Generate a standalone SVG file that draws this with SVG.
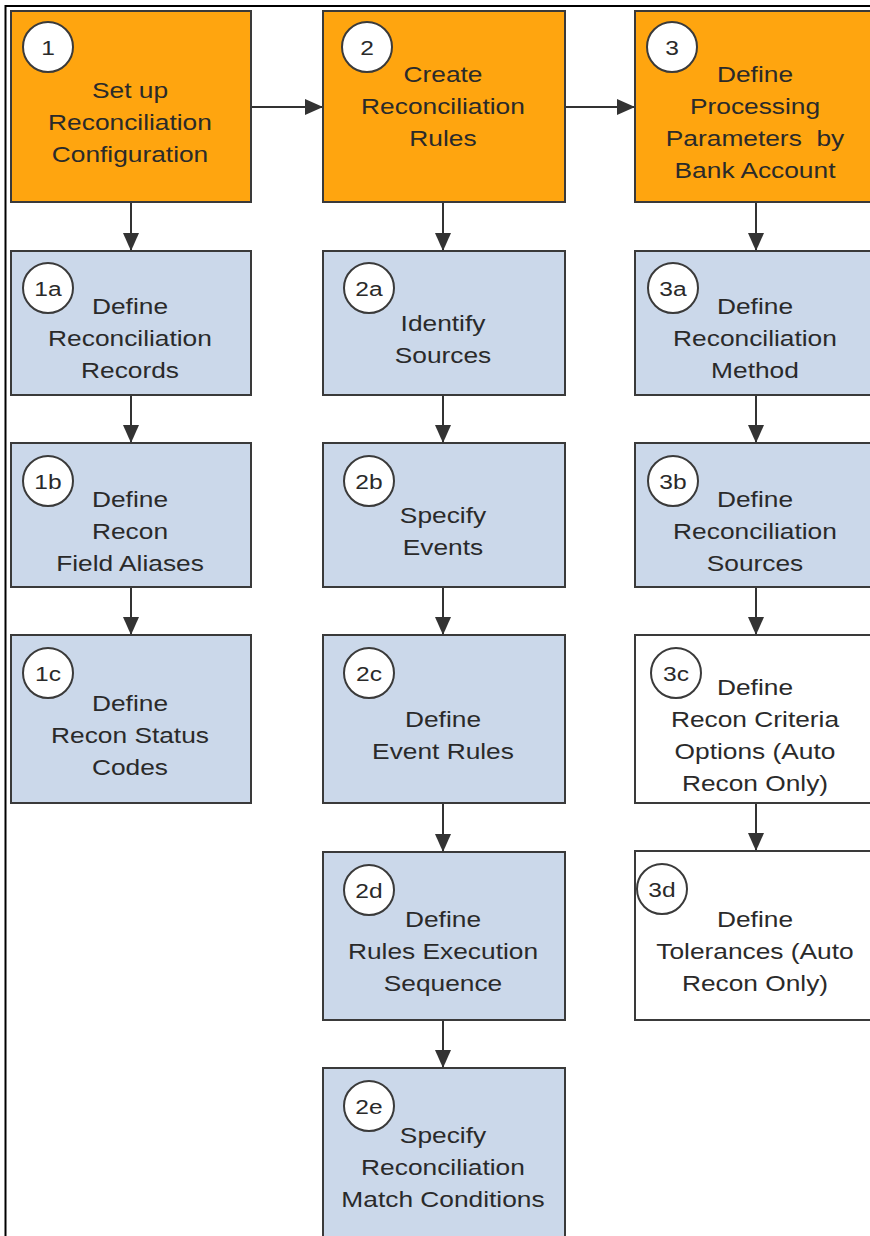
<svg xmlns="http://www.w3.org/2000/svg" width="870" height="1236" viewBox="0 0 870 1236">
<style>
.box{stroke:#3a3a3a;stroke-width:2}
.o{fill:#FFA50F}
.b{fill:#CBD8EA}
.w{fill:#FFFFFF}
.c{fill:#FFFFFF;stroke:#3a3a3a;stroke-width:2}
.t{font-family:"Liberation Sans",Arial,sans-serif;font-size:22.5px;fill:#2a2a2a;text-anchor:middle}
.n{font-family:"Liberation Sans",Arial,sans-serif;font-size:21px;fill:#2a2a2a;text-anchor:middle}
.conn{stroke:#333333;stroke-width:2;fill:none;marker-end:url(#ah)}
</style>
<defs>
<marker id="ah" markerUnits="userSpaceOnUse" markerWidth="18" markerHeight="16" refX="18" refY="8" orient="auto">
<path d="M0,0 L18,8 L0,16 Z" fill="#333333"/>
</marker>
</defs>
<rect x="0" y="0" width="870" height="1236" fill="#FFFFFF"/>
<path d="M5.5,1236 V6 H870" fill="none" stroke="#000000" stroke-width="2"/>

<g id="connectors">
<line class="conn" x1="251" y1="107" x2="323" y2="107"/>
<line class="conn" x1="565" y1="107" x2="635" y2="107"/>
<line class="conn" x1="131" y1="202" x2="131" y2="251"/>
<line class="conn" x1="131" y1="395" x2="131" y2="443"/>
<line class="conn" x1="131" y1="587" x2="131" y2="635"/>
<line class="conn" x1="443" y1="202" x2="443" y2="251"/>
<line class="conn" x1="443" y1="395" x2="443" y2="443"/>
<line class="conn" x1="443" y1="587" x2="443" y2="635"/>
<line class="conn" x1="443" y1="803" x2="443" y2="852"/>
<line class="conn" x1="443" y1="1020" x2="443" y2="1068"/>
<line class="conn" x1="756" y1="202" x2="756" y2="251"/>
<line class="conn" x1="756" y1="395" x2="756" y2="443"/>
<line class="conn" x1="756" y1="587" x2="756" y2="635"/>
<line class="conn" x1="756" y1="803" x2="756" y2="851"/>
</g>

<g id="n1">
<rect class="box o" x="11" y="11" width="240" height="191"/>
<circle class="c" cx="48" cy="47" r="25"/>
<text class="n" transform="matrix(1.17 0 0 1 48 0)"><tspan x="0" y="55">1</tspan></text>
<text class="t" transform="matrix(1.17 0 0 1 130 0)"><tspan x="0" y="98">Set up</tspan><tspan x="0" y="130">Reconciliation</tspan><tspan x="0" y="162">Configuration</tspan></text>
</g>
<g id="n2">
<rect class="box o" x="323" y="11" width="242" height="191"/>
<circle class="c" cx="367" cy="47" r="25"/>
<text class="n" transform="matrix(1.17 0 0 1 367 0)"><tspan x="0" y="55">2</tspan></text>
<text class="t" transform="matrix(1.17 0 0 1 443 0)"><tspan x="0" y="82">Create</tspan><tspan x="0" y="114">Reconciliation</tspan><tspan x="0" y="146">Rules</tspan></text>
</g>
<g id="n3">
<rect class="box o" x="635" y="11" width="242" height="191"/>
<circle class="c" cx="672" cy="47" r="25"/>
<text class="n" transform="matrix(1.17 0 0 1 672 0)"><tspan x="0" y="55">3</tspan></text>
<text class="t" transform="matrix(1.17 0 0 1 755 0)"><tspan x="0" y="82">Define</tspan><tspan x="0" y="114">Processing</tspan><tspan x="0" y="146">Parameters&#160; by</tspan><tspan x="0" y="178">Bank Account</tspan></text>
</g>

<g id="n1a">
<rect class="box b" x="11" y="251" width="240" height="144"/>
<circle class="c" cx="48" cy="288" r="25"/>
<text class="n" transform="matrix(1.17 0 0 1 48 0)"><tspan x="0" y="296">1a</tspan></text>
<text class="t" transform="matrix(1.17 0 0 1 130 0)"><tspan x="0" y="314">Define</tspan><tspan x="0" y="346">Reconciliation</tspan><tspan x="0" y="378">Records</tspan></text>
</g>
<g id="n1b">
<rect class="box b" x="11" y="443" width="240" height="144"/>
<circle class="c" cx="48" cy="481" r="25"/>
<text class="n" transform="matrix(1.17 0 0 1 48 0)"><tspan x="0" y="489">1b</tspan></text>
<text class="t" transform="matrix(1.17 0 0 1 130 0)"><tspan x="0" y="507">Define</tspan><tspan x="0" y="539">Recon</tspan><tspan x="0" y="571">Field Aliases</tspan></text>
</g>
<g id="n1c">
<rect class="box b" x="11" y="635" width="240" height="168"/>
<circle class="c" cx="48" cy="673" r="25"/>
<text class="n" transform="matrix(1.17 0 0 1 48 0)"><tspan x="0" y="681">1c</tspan></text>
<text class="t" transform="matrix(1.17 0 0 1 130 0)"><tspan x="0" y="711">Define</tspan><tspan x="0" y="743">Recon Status</tspan><tspan x="0" y="775">Codes</tspan></text>
</g>

<g id="n2a">
<rect class="box b" x="323" y="251" width="242" height="144"/>
<circle class="c" cx="369" cy="288" r="25"/>
<text class="n" transform="matrix(1.17 0 0 1 369 0)"><tspan x="0" y="296">2a</tspan></text>
<text class="t" transform="matrix(1.17 0 0 1 443 0)"><tspan x="0" y="331">Identify</tspan><tspan x="0" y="363">Sources</tspan></text>
</g>
<g id="n2b">
<rect class="box b" x="323" y="443" width="242" height="144"/>
<circle class="c" cx="369" cy="481" r="25"/>
<text class="n" transform="matrix(1.17 0 0 1 369 0)"><tspan x="0" y="489">2b</tspan></text>
<text class="t" transform="matrix(1.17 0 0 1 443 0)"><tspan x="0" y="523">Specify</tspan><tspan x="0" y="555">Events</tspan></text>
</g>
<g id="n2c">
<rect class="box b" x="323" y="635" width="242" height="168"/>
<circle class="c" cx="369" cy="673" r="25"/>
<text class="n" transform="matrix(1.17 0 0 1 369 0)"><tspan x="0" y="681">2c</tspan></text>
<text class="t" transform="matrix(1.17 0 0 1 443 0)"><tspan x="0" y="727">Define</tspan><tspan x="0" y="759">Event Rules</tspan></text>
</g>
<g id="n2d">
<rect class="box b" x="323" y="852" width="242" height="168"/>
<circle class="c" cx="369" cy="890" r="25"/>
<text class="n" transform="matrix(1.17 0 0 1 369 0)"><tspan x="0" y="898">2d</tspan></text>
<text class="t" transform="matrix(1.17 0 0 1 443 0)"><tspan x="0" y="927">Define</tspan><tspan x="0" y="959">Rules Execution</tspan><tspan x="0" y="991">Sequence</tspan></text>
</g>
<g id="n2e">
<rect class="box b" x="323" y="1068" width="242" height="180"/>
<circle class="c" cx="369" cy="1106" r="25"/>
<text class="n" transform="matrix(1.17 0 0 1 369 0)"><tspan x="0" y="1114">2e</tspan></text>
<text class="t" transform="matrix(1.17 0 0 1 443 0)"><tspan x="0" y="1143">Specify</tspan><tspan x="0" y="1175">Reconciliation</tspan><tspan x="0" y="1207">Match Conditions</tspan></text>
</g>

<g id="n3a">
<rect class="box b" x="635" y="251" width="242" height="144"/>
<circle class="c" cx="673" cy="288" r="25"/>
<text class="n" transform="matrix(1.17 0 0 1 673 0)"><tspan x="0" y="296">3a</tspan></text>
<text class="t" transform="matrix(1.17 0 0 1 755 0)"><tspan x="0" y="314">Define</tspan><tspan x="0" y="346">Reconciliation</tspan><tspan x="0" y="378">Method</tspan></text>
</g>
<g id="n3b">
<rect class="box b" x="635" y="443" width="242" height="144"/>
<circle class="c" cx="673" cy="481" r="25"/>
<text class="n" transform="matrix(1.17 0 0 1 673 0)"><tspan x="0" y="489">3b</tspan></text>
<text class="t" transform="matrix(1.17 0 0 1 755 0)"><tspan x="0" y="507">Define</tspan><tspan x="0" y="539">Reconciliation</tspan><tspan x="0" y="571">Sources</tspan></text>
</g>
<g id="n3c">
<rect class="box w" x="635" y="635" width="242" height="168"/>
<circle class="c" cx="676" cy="673" r="25"/>
<text class="n" transform="matrix(1.17 0 0 1 676 0)"><tspan x="0" y="681">3c</tspan></text>
<text class="t" transform="matrix(1.17 0 0 1 755 0)"><tspan x="0" y="695">Define</tspan><tspan x="0" y="727">Recon Criteria</tspan><tspan x="0" y="759">Options (Auto</tspan><tspan x="0" y="791">Recon Only)</tspan></text>
</g>
<g id="n3d">
<rect class="box w" x="635" y="851" width="242" height="169"/>
<circle class="c" cx="662" cy="889" r="25"/>
<text class="n" transform="matrix(1.17 0 0 1 662 0)"><tspan x="0" y="897">3d</tspan></text>
<text class="t" transform="matrix(1.17 0 0 1 755 0)"><tspan x="0" y="927">Define</tspan><tspan x="0" y="959">Tolerances (Auto</tspan><tspan x="0" y="991">Recon Only)</tspan></text>
</g>
</svg>
